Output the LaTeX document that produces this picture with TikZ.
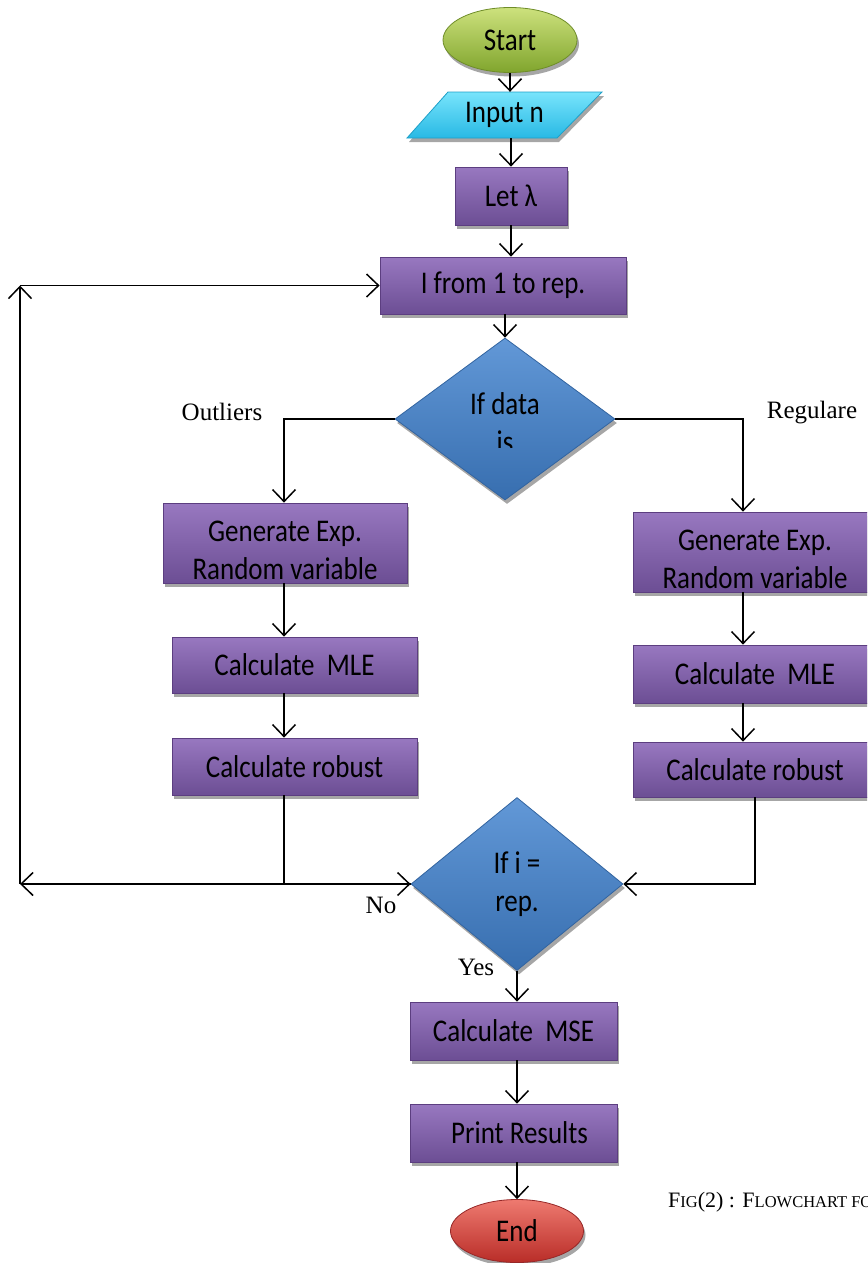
\documentclass[tikz,border=0pt]{standalone}
\usepackage{fontspec}
\setmainfont{Liberation Serif}
\newfontfamily\boxfont{Carlito}
\usetikzlibrary{arrows.meta,shapes.geometric,shadows,calc}
\newcommand{\stt}[1]{\scalebox{1}[1.17]{#1}}
\definecolor{pTop}{RGB}{152,120,192}
\definecolor{pBot}{RGB}{108,78,148}
\definecolor{pEdge}{RGB}{92,62,128}
\definecolor{gTop}{RGB}{205,225,125}
\definecolor{gBot}{RGB}{128,165,45}
\definecolor{gEdge}{RGB}{110,140,40}
\definecolor{cTop}{RGB}{120,228,252}
\definecolor{cBot}{RGB}{40,185,228}
\definecolor{cEdge}{RGB}{30,160,200}
\definecolor{bTop}{RGB}{98,152,215}
\definecolor{bBot}{RGB}{55,110,175}
\definecolor{bEdge}{RGB}{50,100,160}
\definecolor{rTop}{RGB}{238,122,112}
\definecolor{rBot}{RGB}{185,45,40}
\definecolor{rEdge}{RGB}{150,40,40}
\tikzset{
  arr/.style={line width=1.5pt,-{Straight Barb[length=12pt,width=23pt,line width=1.5pt]}},
  shad/.style={drop shadow={shadow xshift=2pt,shadow yshift=-4pt,opacity=0.35,fill=black}},
  boxtxt/.style={font=\boxfont\fontsize{27}{38}\selectfont,text=black,align=center,inner sep=0pt},
  pbox/.style={rectangle,draw=pEdge,line width=0.8pt,top color=pTop,bottom color=pBot,shad,boxtxt},
  gterm/.style={ellipse,draw=gEdge,line width=0.8pt,top color=gTop,bottom color=gBot,shad,boxtxt},
  rterm/.style={ellipse,draw=rEdge,line width=0.8pt,top color=rTop,bottom color=rBot,shad,boxtxt},
  bdia/.style={diamond,draw=bEdge,line width=0.8pt,top color=bTop,bottom color=bBot,shad,boxtxt},
  lbl/.style={font=\fontsize{25}{30}\selectfont,inner sep=0pt}
}
\begin{document}
\begin{tikzpicture}[x=1pt,y=-1pt]
\path[use as bounding box] (0,0) rectangle (867,1263);
\clip (0,0) rectangle (867,1263);

% shapes
\node[gterm,minimum width=134,minimum height=65] (start) at (510,40) {\raisebox{-3pt}{\stt{Start}}};

\shade[top color=cTop,bottom color=cBot,draw=cEdge,line width=0.8pt,shad]
  (448,92)--(602,92)--(557,138)--(407,138)--cycle;
\node[boxtxt,minimum width=195,minimum height=46] (inp) at (504.5,115) {\raisebox{-4pt}{\stt{Input n}}};

\node[pbox,minimum width=112,minimum height=58] (let) at (511,196) {\stt{Let λ}};
\node[pbox,minimum width=246,minimum height=57] (loop) at (503,285.5) {\stt{I from 1 to rep.}};

\node[bdia,minimum width=220,minimum height=162] (d1) at (505,419) {};
\begin{scope}
  \clip (400,340) rectangle (610,447);
  \node[boxtxt] (d1t) at (505,423) {\stt{If data}\\\stt{is}};
\end{scope}

\node[pbox,minimum width=244,minimum height=80] (lgen) at (285,543) {};
\begin{scope}
  \clip (lgen.north west) rectangle ($(lgen.south east)+(0,-4)$);
  \node[boxtxt] (lgent) at (285,550) {\stt{Generate Exp.}\\\stt{Random variable}};
\end{scope}
\node[pbox,minimum width=245,minimum height=56] (lmle) at (294.5,665) {\stt{Calculate\ \ MLE}};
\node[pbox,minimum width=245,minimum height=57] (lrob) at (294.5,766.5) {\stt{Calculate robust}};

\node[pbox,minimum width=244,minimum height=80] (rgen) at (755,552) {};
\begin{scope}
  \clip (rgen.north west) rectangle ($(rgen.south east)+(0,-4)$);
  \node[boxtxt] (rgent) at (755,559) {\stt{Generate Exp.}\\\stt{Random variable}};
\end{scope}
\node[pbox,minimum width=244,minimum height=58] (rmle) at (755,674) {\stt{Calculate\ \ MLE}};
\node[pbox,minimum width=244,minimum height=55] (rrob) at (755,769.5) {\stt{Calculate robust}};

\node[bdia,minimum width=212,minimum height=173,font=\boxfont\fontsize{27}{41}\selectfont] (d2) at (517,884) {\raisebox{-3pt}{\stt{If i =}}\\\stt{rep.}};

\node[pbox,minimum width=207,minimum height=58] (mse) at (513.5,1031) {\stt{Calculate\ \ MSE}};
\node[pbox,minimum width=207,minimum height=58] (prn) at (513.5,1133) {\stt{\ \ Print Results}};
\node[rterm,minimum width=133,minimum height=63] (end) at (517,1231) {\stt{End}};

% labels
\node[lbl] (outl) at (222,412) {Outliers};
\node[lbl] (regl) at (812,413) {Regulare};
\node[lbl] (nol) at (381,905) {No};
\node[lbl] (yesl) at (476,967) {Yes};
\node[anchor=base west,inner sep=0pt] (cap) at (668,1207)
  {\fontsize{22}{26}\selectfont F{\fontsize{16.5}{20}\selectfont IG}(2) : F{\fontsize{16.5}{20}\selectfont LOWCHART FOR}};

% helper coordinates
\coordinate (lx) at (284,0);
\coordinate (rx) at (743,0);
\coordinate (cornerB) at (20,884);
\coordinate (cornerT) at (loop.west -| cornerB);

% connectors
\draw[arr] (start.south) -- (start.south |- inp.north);
\draw[arr] (inp.south -| let.north) -- (let.north);
\draw[arr] (let.south) -- (let.south |- loop.north);
\draw[arr] (d1.north |- loop.south) -- (d1.north);
\draw[arr] (d1.west) -| (lgen.north -| lx);
\draw[arr] (d1.east) -| (rgen.north -| rx);
\draw[arr] (lgen.south -| lx) -- (lmle.north -| lx);
\draw[arr] (lmle.south -| lx) -- (lrob.north -| lx);
\draw[arr] (rgen.south -| rx) -- (rmle.north -| rx);
\draw[arr] (rmle.south -| rx) -- (rrob.north -| rx);
\draw[arr] (lrob.south -| lx) |- (d2.west);
\draw[arr] (rrob.south) |- (d2.east);
\draw[arr] (d2.west) -- (cornerB);
\draw[arr] (cornerB) -- (cornerT);
\draw[arr] (cornerT) -- (loop.west);
\draw[arr] (d2.south) -- (d2.south |- mse.north);
\draw[arr] (mse.south -| d2.south) -- (prn.north -| d2.south);
\draw[arr] (prn.south -| d2.south) -- (end.north);
\end{tikzpicture}
\end{document}
